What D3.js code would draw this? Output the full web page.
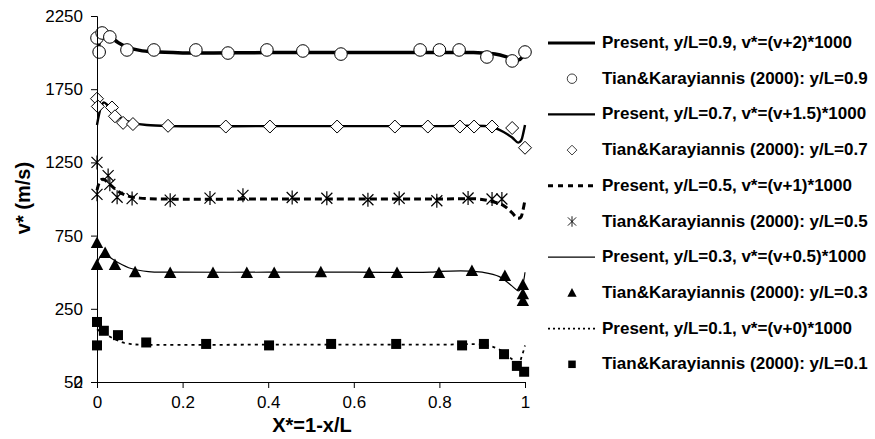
<!DOCTYPE html>
<html>
<head>
<meta charset="utf-8">
<script src="https://cdn.jsdelivr.net/npm/d3@7"></script>
<style>
  html, body { margin: 0; padding: 0; background: #fff; }
  svg { display: block; font-family: "Liberation Sans", Arial, Helvetica, sans-serif; }
  .tick text { font-size: 17px; fill: #000; }
  .axis path, .axis line { stroke: #000; stroke-width: 1; }
  .title { font-size: 20px; font-weight: bold; }
  .leg { font-size: 17px; font-weight: bold; }
</style>
</head>
<body>
<div id="chart"></div>
<script>
// Simulated profiles ("Present"), each already offset by the legend's constant.
const present09 = [[0, 1980], [0.005, 2065], [0.01, 2115], [0.016, 2130], [0.03, 2108], [0.05, 2068], [0.07, 2038],
  [0.1, 2015], [0.13, 2005], [0.2, 1998], [0.4, 2000], [0.6, 2000], [0.8, 2000], [0.88, 2000], [0.9, 1998],
  [0.93, 1990], [0.955, 1972], [0.972, 1953], [0.985, 1950], [0.993, 1968], [1.0, 2010]];
const present07 = [[0, 1505], [0.005, 1580], [0.01, 1635], [0.016, 1660], [0.025, 1640], [0.037, 1595], [0.06, 1545],
  [0.084, 1520], [0.116, 1505], [0.17, 1498], [0.4, 1498], [0.6, 1498], [0.8, 1498], [0.91, 1498], [0.93, 1485],
  [0.95, 1458], [0.97, 1420], [0.984, 1385], [0.991, 1400], [0.996, 1450], [1.0, 1505]];
const present05 = [[0, 1060], [0.008, 1128], [0.015, 1135], [0.03, 1100], [0.05, 1052], [0.07, 1022], [0.1, 1006],
  [0.15, 1000], [0.4, 1000], [0.6, 1000], [0.8, 1000], [0.89, 1000], [0.92, 985], [0.95, 955], [0.97, 905],
  [0.982, 870], [0.99, 875], [0.995, 920], [1.0, 995]];
const present03 = [[0, 560], [0.008, 610], [0.015, 630], [0.03, 602], [0.05, 565], [0.08, 525], [0.12, 504],
  [0.17, 500], [0.4, 500], [0.6, 500], [0.78, 500], [0.8, 505], [0.87, 508], [0.9, 500], [0.94, 470],
  [0.97, 405], [0.985, 372], [0.993, 400], [1.0, 500]];
const present01 = [[0, 110], [0.01, 92], [0.02, 75], [0.04, 45], [0.06, 20], [0.08, 9], [0.1, 5], [0.4, 5],
  [0.6, 5], [0.8, 5], [0.9, 5], [0.93, -15], [0.95, -45], [0.97, -95], [0.985, -120], [0.993, -70], [1.0, 0]];

// Tian & Karayiannis (2000) measurements.
const tian09 = [[0, 2100], [0.005, 2004], [0.012, 2134], [0.03, 2107], [0.07, 2018], [0.133, 2018], [0.231, 2018],
  [0.306, 1997], [0.397, 2018], [0.481, 2011], [0.57, 1990], [0.755, 2018], [0.8, 2018], [0.846, 2018],
  [0.911, 1970], [0.97, 1943], [1.0, 2004]];
const tian07 = [[0, 1685], [0.002, 1632], [0.035, 1625], [0.042, 1565], [0.061, 1520], [0.084, 1512], [0.166, 1500],
  [0.301, 1495], [0.404, 1495], [0.561, 1495], [0.696, 1495], [0.773, 1495], [0.848, 1495], [0.881, 1495],
  [0.923, 1495], [0.97, 1485], [1.0, 1350]];
const tian05 = [[0, 1250], [0, 1032], [0.026, 1160], [0.03, 1100], [0.047, 1012], [0.082, 1003], [0.171, 992],
  [0.264, 1006], [0.341, 1025], [0.456, 1010], [0.537, 1005], [0.633, 995], [0.706, 1005], [0.794, 988],
  [0.867, 1007], [0.923, 1000], [0.946, 1000]];
const tian03 = [[0, 699], [0.019, 631], [0, 549], [0.042, 549], [0.089, 500], [0.171, 495], [0.271, 495],
  [0.35, 495], [0.414, 495], [0.523, 500], [0.636, 495], [0.701, 495], [0.799, 495], [0.876, 508],
  [0.953, 474], [0.995, 413], [0.995, 350], [0.995, 303]];
const tian01 = [[0, 160], [0, 0], [0.016, 100], [0.049, 70], [0.115, 20], [0.255, 10], [0.402, 0], [0.547, 10],
  [0.699, 10], [0.853, 0], [0.904, 10], [0.951, -60], [0.981, -140], [0.998, -180]];

const xTicks = [0, 0.2, 0.4, 0.6, 0.8, 1];
const yTicks = [-250, 250, 750, 1250, 1750, 2250];

const lineSeries = [
  { name: "Present, y/L=0.9, v*=(v+2)*1000", data: present09, width: 3.5, dash: null },
  { name: "Present, y/L=0.7, v*=(v+1.5)*1000", data: present07, width: 2.4, dash: null },
  { name: "Present, y/L=0.5, v*=(v+1)*1000", data: present05, width: 3, dash: "7,4" },
  { name: "Present, y/L=0.3, v*=(v+0.5)*1000", data: present03, width: 1.2, dash: null },
  { name: "Present, y/L=0.1, v*=(v+0)*1000", data: present01, width: 1.8, dash: "3,4" },
];
const pointSeries = [
  { name: "Tian&Karayiannis (2000): y/L=0.9", data: tian09, shape: "circle" },
  { name: "Tian&Karayiannis (2000): y/L=0.7", data: tian07, shape: "diamond" },
  { name: "Tian&Karayiannis (2000): y/L=0.5", data: tian05, shape: "star" },
  { name: "Tian&Karayiannis (2000): y/L=0.3", data: tian03, shape: "triangle" },
  { name: "Tian&Karayiannis (2000): y/L=0.1", data: tian01, shape: "square" },
];

const width = 875, height = 439;
const x = d3.scaleLinear([0, 1], [97, 525]);
const y = d3.scaleLinear([-250, 2250], [382, 16]);

const svg = d3.select("#chart").append("svg").attr("width", width).attr("height", height);

// Markers drawn centered on the origin; the caller translates them.
function drawMarker(sel, shape) {
  if (shape === "circle") {
    sel.append("circle").attr("r", 6.3).attr("fill", "#fff").attr("stroke", "#000").attr("stroke-width", 1);
  } else if (shape === "diamond") {
    sel.append("path").attr("d", "M0,-6.5L6.5,0L0,6.5L-6.5,0Z").attr("fill", "#fff").attr("stroke", "#000").attr("stroke-width", 1);
  } else if (shape === "star") {
    sel.append("path").attr("d", "M-5.5,-5.5L5.5,5.5M-5.5,5.5L5.5,-5.5M0,-7L0,7").attr("stroke", "#000").attr("stroke-width", 1.2);
  } else if (shape === "triangle") {
    sel.append("path").attr("d", "M0,-6.5L6.2,5L-6.2,5Z").attr("fill", "#000");
  } else if (shape === "square") {
    sel.append("rect").attr("x", -5).attr("y", -5).attr("width", 10).attr("height", 10).attr("fill", "#000");
  }
}

const line = d3.line().x((d) => x(d[0])).y((d) => y(d[1])).curve(d3.curveCatmullRom.alpha(0.5));
for (const s of lineSeries) {
  svg.append("path").datum(s.data).attr("d", line).attr("fill", "none").attr("stroke", "#000")
    .attr("stroke-width", s.width).attr("stroke-dasharray", s.dash);
}
for (const s of pointSeries) {
  svg.append("g").selectAll("g").data(s.data).join("g")
    .attr("transform", (d) => `translate(${x(d[0])},${y(d[1])})`)
    .each(function () { drawMarker(d3.select(this), s.shape); });
}

// Axes
const yAxis = svg.append("g").attr("class", "axis").attr("transform", "translate(97,0)")
  .call(d3.axisLeft(y).tickValues(yTicks).tickSizeOuter(0).tickSize(6).tickPadding(8)
    .tickFormat(d3.format("d")));
// The bottom label in the original prints a "2" over the "0" of "50".
const bottom = yAxis.selectAll(".tick").filter((d) => d === -250).select("text").text("50");
bottom.append("tspan").attr("dx", "-0.556em").text("2");
svg.append("g").attr("class", "axis").attr("transform", "translate(0,382)")
  .call(d3.axisBottom(x).tickValues(xTicks).tickSizeOuter(0).tickSize(6).tickPadding(8)
    .tickFormat((d) => d));

svg.append("text").attr("class", "title").attr("text-anchor", "middle")
  .attr("transform", "translate(30,198) rotate(-90)").text("v* (m/s)");
svg.append("text").attr("class", "title").attr("text-anchor", "middle")
  .attr("x", 312).attr("y", 432).text("X*=1-x/L");

// Legend: alternating line / marker entries
const legendRows = [];
lineSeries.forEach((s, i) => { legendRows.push({ kind: "line", s }); legendRows.push({ kind: "pt", s: pointSeries[i] }); });
legendRows.forEach((r, i) => {
  const ly = 48 + i * 35.7;
  const g = svg.append("g");
  if (r.kind === "line") {
    g.append("line").attr("x1", 548).attr("x2", 595).attr("y1", ly - 5).attr("y2", ly - 5)
      .attr("stroke", "#000").attr("stroke-width", Math.min(r.s.width, 3))
      .attr("stroke-dasharray", r.s.dash === "7,4" ? "5,5" : r.s.dash === "3,4" ? "2,3" : null);
  } else {
    const m = g.append("g").attr("transform", `translate(572,${ly - 5}) scale(0.75)`);
    drawMarker(m, r.s.shape);
  }
  g.append("text").attr("class", "leg").attr("x", 602).attr("y", ly).text(r.s.name);
});
</script>
</body>
</html>
